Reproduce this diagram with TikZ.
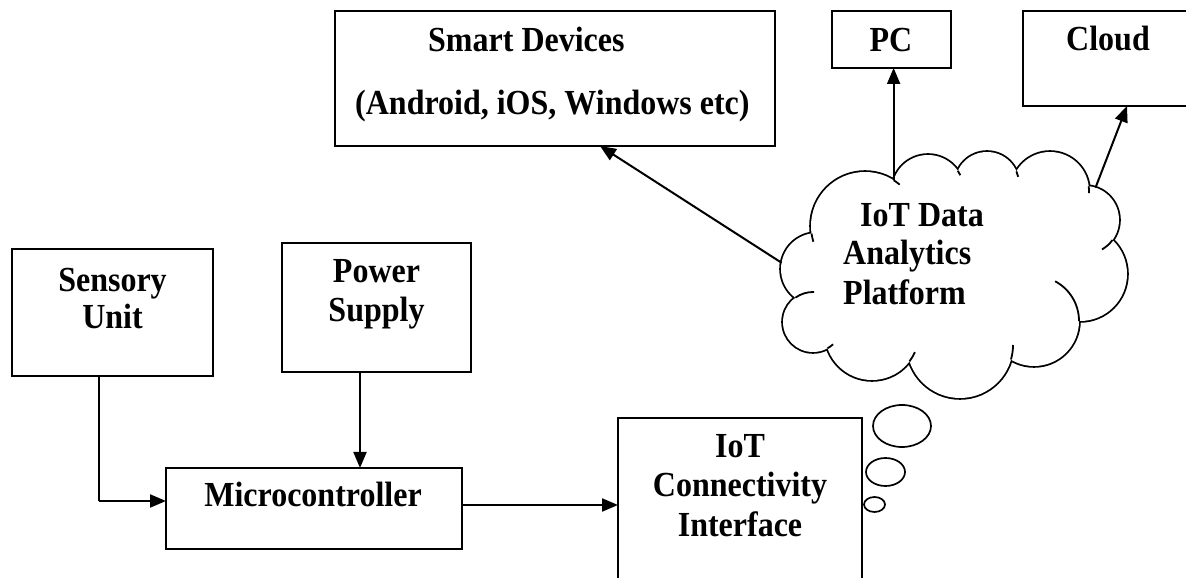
\documentclass[tikz,border=0pt]{standalone}
\usepackage{fontspec}
\usepackage{graphicx}
\setmainfont{Liberation Serif}
\usetikzlibrary{arrows.meta}
\newcommand\lbf{\fontsize{32pt}{38pt}\selectfont\bfseries}
\newcommand\tallt[1]{\scalebox{1}[1.1]{#1}}
\begin{document}
\begin{tikzpicture}[x=1pt,y=1pt,
  box/.style={draw, line width=2pt, anchor=south west, inner sep=0pt, outer sep=0pt},
  lbl/.style={font=\lbf, inner sep=0pt, anchor=base},
  lblw/.style={font=\lbf, inner sep=0pt, anchor=base west},
  arr/.style={line width=2pt, -{Triangle[length=16pt,width=13pt]}},
  thinl/.style={line width=1.1pt},
  cl/.style={line width=1.8pt},
  bubble/.style={line width=1.7pt},
]
\useasboundingbox (0,0) rectangle (1186,578);
\clip (0,0) rectangle (1186,578);

% ---------- cloud (union of circles) ----------
\coordinate (k1) at (865,352);
\coordinate (k2) at (928,387);
\coordinate (k3) at (987,394);
\coordinate (k4) at (1050,387);
\coordinate (k5) at (1085,358);
\coordinate (k6) at (1080,304);
\coordinate (k7) at (1034,257);
\coordinate (k8) at (960,233);
\coordinate (k9) at (872,245);
\coordinate (k10) at (813,256);
\coordinate (k11) at (817,309);
\foreach \c/\r in {k1/54,k2/36,k3/32,k4/39,k5/34,k6/47,k7/45,k8/53,k9/47,k10/30,k11/36}
  \draw[line width=3.6pt] (\c) circle[radius=\r pt];
\foreach \c/\r in {k1/54,k2/36,k3/32,k4/39,k5/34,k6/47,k7/45,k8/53,k9/47,k10/30,k11/36}
  \fill[white] (\c) circle[radius=\r pt];
\fill[white] (814.3,343.8) -- (895.3,395.2) -- (957.8,404.2) -- (1014.8,404.0)
  -- (1086.1,390.1) -- (1109.6,337.4) -- (1076.1,258.2) -- (1009.3,221.0)
  -- (910.9,219.5) -- (830.2,231.3) -- (798.4,280.8) -- cycle;
% inner tails
\draw[cl] ([shift={(188:54pt)}]k1) arc[start angle=188, end angle=197, radius=54pt];
\draw[cl] ([shift={(58:54pt)}]k1) arc[start angle=58, end angle=50, radius=54pt];
\draw[cl] ([shift={(34:36pt)}]k2) arc[start angle=34, end angle=26, radius=36pt];
\draw[cl] ([shift={(23.3:32pt)}]k3) arc[start angle=23.3, end angle=13, radius=32pt];
\draw[cl] ([shift={(7:39pt)}]k4) arc[start angle=7, end angle=-3, radius=39pt];
\draw[cl] ([shift={(-36:34pt)}]k5) arc[start angle=-36, end angle=-60, radius=34pt];
\draw[cl] ([shift={(0:45pt)}]k7) arc[start angle=0, end angle=62, radius=45pt];
\draw[cl] ([shift={(-15.9:53pt)}]k8) arc[start angle=-15.9, end angle=0, radius=53pt];
\draw[cl] ([shift={(-37:47pt)}]k9) arc[start angle=-37, end angle=-24, radius=47pt];
\draw[cl] ([shift={(-60.9:30pt)}]k10) arc[start angle=-60.9, end angle=-48, radius=30pt];
\draw[cl] ([shift={(125.9:30pt)}]k10) arc[start angle=125.9, end angle=88, radius=30pt];

\coordinate (cSD) at ([shift={(170:36pt)}]k11);
\coordinate (cPC) at ([shift={(58:54pt)}]k1);
\coordinate (cCL) at ([shift={(72:34pt)}]k5);

\node[lblw] (ct1) at (860,351) {\tallt{IoT Data}};
\node[lblw] (ct2) at (843,313) {\tallt{Analytics}};
\node[lblw] (ct3) at (843,273) {\tallt{Platform}};

% thought bubbles
\draw[bubble] (902,152) ellipse[x radius=29pt, y radius=21pt];
\draw[bubble] (885.5,106) ellipse[x radius=19.5pt, y radius=14pt];
\draw[bubble] (874.5,73.5) ellipse[x radius=10.5pt, y radius=7.5pt];

% ---------- boxes ----------
\node[box, minimum width=440pt, minimum height=135pt] (smart) at (335,432) {};
\node[box, minimum width=119pt, minimum height=57pt] (pc) at (832,510) {};
\node[box, minimum width=220pt, minimum height=95pt] (cloudbox) at (1023,472) {};
\node[box, minimum width=201pt, minimum height=127pt] (sensory) at (12,202) {};
\node[box, minimum width=189pt, minimum height=129pt] (power) at (282,206) {};
\node[box, minimum width=296pt, minimum height=81pt] (micro) at (166,29) {};
\node[box, minimum width=244pt, minimum height=190pt] (iot) at (618,-30) {};

% ---------- texts ----------
\node[lblw] (sd1) at (428,526) {\tallt{Smart Devices}};
\node[lblw] (sd2) at (355,463) {\tallt{(Android, iOS, Windows etc)}};
\node[lbl] (pct) at (891,526) {\tallt{PC}};
\node[lbl] (cbt) at (1108,527) {\tallt{Cloud}};
\node[lbl] (se1) at (112.5,286) {\tallt{Sensory}};
\node[lbl] (se2) at (112.5,249) {\tallt{Unit}};
\node[lbl] (po1) at (376.5,295) {\tallt{Power}};
\node[lbl] (po2) at (376.5,256) {\tallt{Supply}};
\node[lbl] (mct) at (313,71) {\tallt{Microcontroller}};
\node[lbl] (io1) at (740,120) {\tallt{IoT}};
\node[lbl] (io2) at (740,81) {\tallt{Connectivity}};
\node[lbl] (io3) at (740,41) {\tallt{Interface}};

% ---------- connectors ----------
\coordinate (sbend) at (99,77);
\draw[thinl] ([xshift=-13.5pt]sensory.south) -- (sbend);
\draw[arr] (sbend) -- (sbend -| micro.west);
\draw[arr] ([xshift=-16.5pt]power.south) -- ([xshift=-16.5pt]power.south |- micro.north);
\draw[arr] ([yshift=3.5pt]micro.east) -- ([yshift=3.5pt]micro.east -| iot.west);
\draw[arr] (cSD) -- ([xshift=265pt]smart.south west);
\draw[arr] (cPC) -- (cPC |- pc.south);
\draw[arr] (cCL) -- ([xshift=104pt]cloudbox.south west);
\end{tikzpicture}
\end{document}
